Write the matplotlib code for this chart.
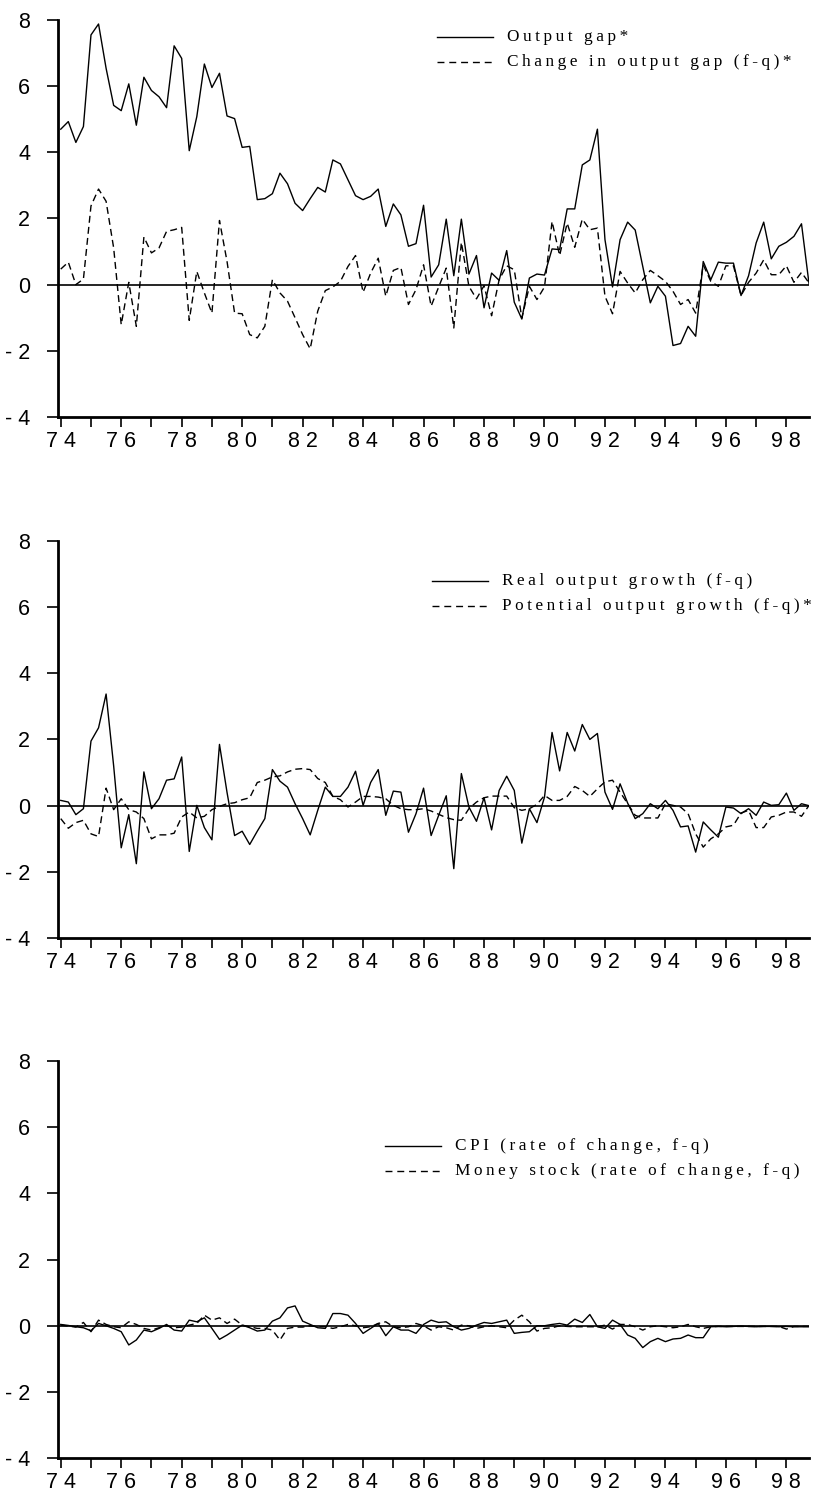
import matplotlib
matplotlib.use('Agg')
import matplotlib.pyplot as plt
import numpy as np

# quarterly observations, 1974Q1 - 1998Q4
quarters = 74 + np.arange(100) / 4

# panel 1
output_gap = [4.70, 4.93, 4.30, 4.78, 7.55, 7.88, 6.54, 5.42, 5.26, 6.07,
              4.82, 6.27, 5.87, 5.68, 5.35, 7.22, 6.84, 4.05, 5.08, 6.67,
              5.96, 6.39, 5.10, 5.02, 4.15, 4.18, 2.57, 2.60, 2.75, 3.37,
              3.05, 2.46, 2.24, 2.60, 2.94, 2.80, 3.77, 3.65, 3.17, 2.69,
              2.57, 2.67, 2.89, 1.76, 2.44, 2.11, 1.16, 1.24, 2.40, 0.23,
              0.60, 1.98, 0.27, 1.98, 0.32, 0.88, -0.70, 0.35, 0.13, 1.03,
              -0.53, -1.04, 0.20, 0.32, 0.29, 1.08, 1.06, 2.29, 2.29, 3.62,
              3.77, 4.70, 1.36, -0.07, 1.36, 1.89, 1.65, 0.55, -0.55, -0.05,
              -0.35, -1.84, -1.78, -1.26, -1.56, 0.70, 0.15, 0.68, 0.65, 0.65,
              -0.33, 0.27, 1.26, 1.89, 0.78, 1.16, 1.28, 1.46, 1.84, 0.02]
gap_change = [0.47, 0.68, 0.00, 0.17, 2.38, 2.89, 2.52, 1.11, -1.21, 0.07,
              -1.26, 1.44, 0.96, 1.11, 1.61, 1.66, 1.73, -1.08, 0.40, -0.25,
              -0.86, 1.94, 0.70, -0.86, -0.88, -1.51, -1.61, -1.26, 0.15, -0.25,
              -0.50, -1.00, -1.51, -1.94, -0.80, -0.18, -0.07, 0.10, 0.55, 0.88,
              -0.23, 0.35, 0.80, -0.35, 0.43, 0.52, -0.60, -0.15, 0.60, -0.65,
              -0.07, 0.50, -1.31, 1.28, -0.05, -0.43, -0.03, -0.94, 0.15, 0.57,
              0.45, -1.01, -0.05, -0.45, -0.07, 1.91, 0.88, 1.86, 1.13, 1.98,
              1.66, 1.71, -0.35, -0.88, 0.40, 0.05, -0.25, 0.15, 0.43, 0.27,
              0.10, -0.20, -0.60, -0.45, -0.86, 0.60, 0.10, -0.05, 0.57, 0.57,
              -0.33, 0.07, 0.35, 0.75, 0.30, 0.30, 0.57, 0.07, 0.37, 0.05]

# panel 2
real_growth = [0.16, 0.11, -0.27, -0.09, 1.95, 2.35, 3.37, 1.20, -1.27, -0.27,
               -1.75, 1.02, -0.09, 0.21, 0.77, 0.81, 1.47, -1.38, 0.01, -0.66,
               -1.03, 1.85, 0.40, -0.90, -0.77, -1.17, -0.77, -0.39, 1.09, 0.74,
               0.56, 0.06, -0.39, -0.88, -0.14, 0.56, 0.28, 0.28, 0.56, 1.04,
               0.01, 0.70, 1.09, -0.29, 0.44, 0.41, -0.80, -0.24, 0.53, -0.90,
               -0.29, 0.30, -1.90, 0.97, -0.04, -0.47, 0.24, -0.73, 0.46, 0.89,
               0.46, -1.13, -0.09, -0.51, 0.26, 2.21, 1.05, 2.21, 1.65, 2.45,
               2.00, 2.18, 0.41, -0.11, 0.66, 0.08, -0.39, -0.24, 0.06, -0.09,
               0.16, -0.14, -0.64, -0.61, -1.40, -0.49, -0.73, -0.95, -0.04, -0.07,
               -0.24, -0.09, -0.29, 0.11, 0.01, 0.03, 0.38, -0.14, 0.06, 0.00]
potential_growth = [-0.39, -0.68, -0.51, -0.44, -0.85, -0.93, 0.53, -0.12, 0.21, -0.12,
                    -0.19, -0.39, -1.00, -0.88, -0.88, -0.83, -0.34, -0.19, -0.37, -0.32,
                    -0.12, -0.02, 0.06, 0.09, 0.18, 0.24, 0.70, 0.77, 0.87, 0.90,
                    1.02, 1.10, 1.12, 1.09, 0.82, 0.70, 0.28, 0.18, -0.04, 0.11,
                    0.28, 0.28, 0.26, 0.21, 0.01, -0.09, -0.12, -0.12, -0.09, -0.16,
                    -0.26, -0.36, -0.42, -0.44, -0.09, 0.11, 0.24, 0.29, 0.29, 0.29,
                    -0.06, -0.14, -0.09, 0.04, 0.31, 0.16, 0.16, 0.28, 0.58, 0.46,
                    0.28, 0.51, 0.72, 0.77, 0.41, 0.06, -0.29, -0.37, -0.37, -0.37,
                    0.06, 0.01, -0.04, -0.24, -0.85, -1.25, -1.00, -0.85, -0.64, -0.59,
                    -0.22, -0.14, -0.66, -0.66, -0.34, -0.29, -0.19, -0.19, -0.32, 0.01]

# panel 3
cpi_change = [0.04, 0.01, -0.03, -0.06, -0.15, 0.07, 0.00, -0.08, -0.18, -0.58,
              -0.43, -0.13, -0.18, -0.08, 0.04, -0.13, -0.16, 0.17, 0.12, 0.24,
              -0.08, -0.41, -0.28, -0.13, 0.02, -0.06, -0.16, -0.13, 0.14, 0.24,
              0.54, 0.60, 0.14, 0.04, -0.06, -0.08, 0.37, 0.37, 0.32, 0.07,
              -0.23, -0.08, 0.07, -0.30, -0.03, -0.13, -0.13, -0.23, 0.04, 0.17,
              0.10, 0.12, -0.03, -0.13, -0.08, 0.02, 0.10, 0.07, 0.12, 0.17,
              -0.23, -0.20, -0.18, 0.00, 0.00, 0.04, 0.07, 0.02, 0.20, 0.10,
              0.34, -0.03, -0.08, 0.17, 0.04, -0.28, -0.38, -0.66, -0.48, -0.38,
              -0.48, -0.40, -0.38, -0.28, -0.36, -0.36, -0.03, -0.02, -0.03, -0.02,
              -0.01, -0.02, -0.03, -0.02, -0.02, -0.03, -0.02, -0.03, -0.03, -0.03]
money_change = [0.02, -0.01, -0.04, 0.10, -0.18, 0.17, 0.04, -0.03, -0.06, 0.12,
                0.04, -0.08, -0.13, -0.06, 0.00, -0.06, -0.04, 0.02, 0.07, 0.32,
                0.17, 0.24, 0.07, 0.20, 0.02, -0.03, -0.08, -0.08, -0.13, -0.43,
                -0.08, -0.04, -0.04, 0.00, -0.03, -0.03, -0.08, -0.03, 0.04, 0.00,
                -0.06, -0.03, 0.07, 0.12, -0.03, -0.06, -0.03, 0.07, 0.00, -0.13,
                -0.03, -0.06, -0.13, 0.02, 0.00, -0.08, -0.03, 0.00, -0.03, -0.06,
                0.17, 0.32, 0.12, -0.16, -0.08, -0.06, 0.00, -0.02, -0.03, -0.03,
                -0.03, -0.03, 0.02, -0.10, 0.04, 0.04, -0.03, -0.13, -0.03, 0.00,
                -0.03, -0.06, -0.03, 0.04, -0.03, -0.08, -0.03, -0.02, -0.02, -0.02,
                -0.02, -0.02, -0.02, -0.02, -0.02, -0.02, -0.10, -0.02, -0.02, -0.02]

year_ticks = list(range(74, 99))
year_labels = ['7 4', '', '7 6', '', '7 8', '', '8 0', '', '8 2', '', '8 4', '', '8 6', '',
               '8 8', '', '9 0', '', '9 2', '', '9 4', '', '9 6', '', '9 8']
y_ticks = [-4, -2, 0, 2, 4, 6, 8]
y_labels = ['- 4', '- 2', '0', '2', '4', '6', '8']

legend_texts = [
    ('Output gap*', 'Change in output gap (f-q)*'),
    ('Real output growth (f-q)', 'Potential output growth (f-q)*'),
    ('CPI (rate of change, f-q)', 'Money stock (rate of change, f-q)'),
]

DASH = (5, 3)


def spaced(s):
    # the original key text is letter-spaced
    return '\u2009'.join(s)


def draw_key(ax, x0, x1, xt, y0, labels):
    dy = 0.063
    for k, lab in enumerate(labels):
        y = y0 - k * dy
        ln, = ax.plot([x0, x1], [y, y], color='black', lw=1.0,
                      transform=ax.transAxes, clip_on=False)
        if k == 1:
            ln.set_dashes((5, 3.5))
        ax.text(xt, y, spaced(lab), transform=ax.transAxes, va='center', ha='left',
                fontsize=12.4, family=['Liberation Serif', 'DejaVu Serif'])


def draw_panel(fig, rect, solid, dashed, labels, key_pos):
    ax = fig.add_axes(rect)
    ax.plot(quarters, solid, color='black', lw=1.0)
    ax.plot(quarters, dashed, color='black', lw=1.0, dashes=DASH)
    ax.axhline(0, color='black', lw=1.2)

    ax.set_xlim(73.91, 98.75)
    ax.set_ylim(-4, 8)
    for side in ['top', 'right']:
        ax.spines[side].set_visible(False)
    for side in ['left', 'bottom']:
        ax.spines[side].set_linewidth(2.0)

    ax.set_xticks(year_ticks)
    ax.set_xticklabels(year_labels)
    ax.set_yticks(y_ticks)
    ax.set_yticklabels(y_labels)
    ax.tick_params(axis='x', direction='out', length=7, width=1.2, pad=3, labelsize=15.5)
    ax.tick_params(axis='y', direction='out', length=8, width=1.2, pad=12, labelsize=15.5)
    for lab in ax.get_xticklabels() + ax.get_yticklabels():
        lab.set_family('Liberation Sans')

    draw_key(ax, *key_pos, labels)
    return ax


fig = plt.figure(figsize=(8.15, 14.95), dpi=100)

panels = [
    ([0.0712, 0.7211, 0.9215, 0.2655], output_gap, gap_change, (0.5047, 0.5792, 0.598, 0.957)),
    ([0.0712, 0.3724, 0.9215, 0.2660], real_growth, potential_growth, (0.4976, 0.5729, 0.5916, 0.899)),
    ([0.0712, 0.0247, 0.9215, 0.2655], cpi_change, money_change, (0.4354, 0.5100, 0.5286, 0.786)),
]

for (rect, s1, s2, key_pos), labels in zip(panels, legend_texts):
    draw_panel(fig, rect, s1, s2, labels, key_pos)

fig.savefig('out.png', dpi=100)
